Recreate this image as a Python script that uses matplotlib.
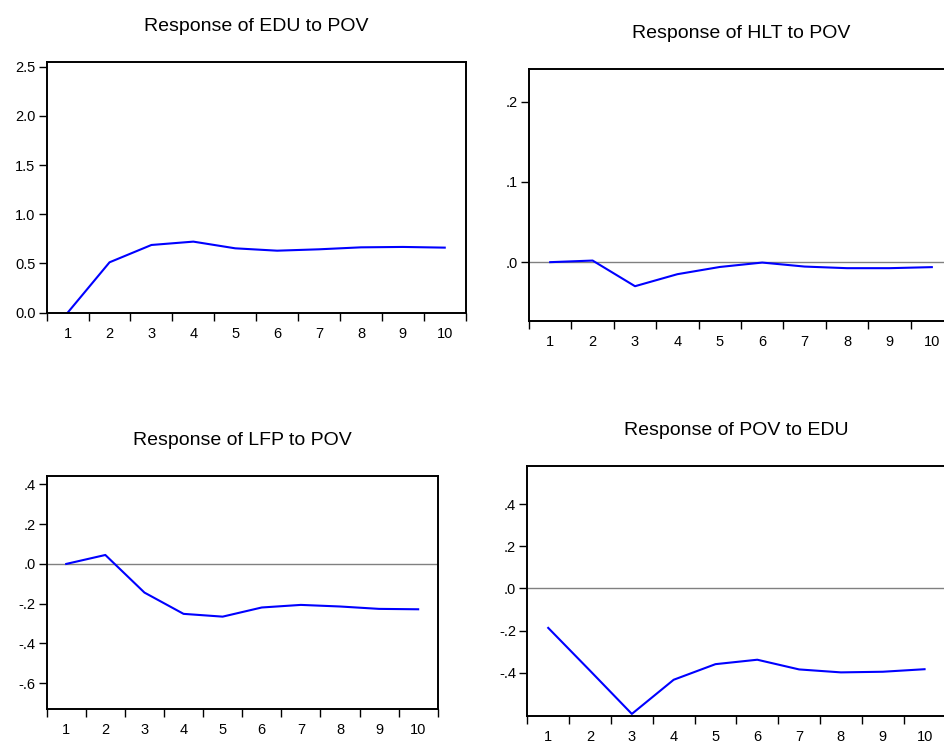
import matplotlib
matplotlib.use('Agg')
import matplotlib.pyplot as plt
from matplotlib.ticker import FixedLocator

plt.rcParams['font.family'] = ['Liberation Sans', 'DejaVu Sans']

periods = [1, 2, 3, 4, 5, 6, 7, 8, 9, 10]

edu_to_pov = [0.0, 0.512, 0.688, 0.722, 0.654, 0.630, 0.644, 0.664, 0.668, 0.661]
hlt_to_pov = [0.000, 0.002, -0.030, -0.015, -0.006, -0.0005, -0.0055, -0.0075, -0.0075, -0.0062]
lfp_to_pov = [0.0, 0.045, -0.144, -0.251, -0.265, -0.219, -0.206, -0.214, -0.226, -0.228]
pov_to_edu = [-0.187, -0.39, -0.595, -0.433, -0.359, -0.338, -0.384, -0.398, -0.395, -0.383]

titles = ['Response of EDU to POV', 'Response of HLT to POV',
          'Response of LFP to POV', 'Response of POV to EDU']

edu_ticks = [0.0, 0.5, 1.0, 1.5, 2.0, 2.5]
edu_labels = ['0.0', '0.5', '1.0', '1.5', '2.0', '2.5']
hlt_ticks = [0.0, 0.1, 0.2]
hlt_labels = ['.0', '.1', '.2']
lfp_ticks = [-0.6, -0.4, -0.2, 0.0, 0.2, 0.4]
lfp_labels = ['-.6', '-.4', '-.2', '.0', '.2', '.4']
pov_ticks = [-0.4, -0.2, 0.0, 0.2, 0.4]
pov_labels = ['-.4', '-.2', '.0', '.2', '.4']

fig = plt.figure(figsize=(9.45, 7.44), dpi=100)


def panel(rect, values, title, ylim, yticks, ylabels, zero_line=True):
    ax = fig.add_axes(rect)
    if zero_line:
        ax.axhline(0, color='#808080', lw=1.0, zorder=1)
    ax.plot(periods, values, color='#0000ff', lw=1.5, zorder=2)
    ax.set_xlim(0.5, 10.5)
    ax.set_ylim(*ylim)
    ax.set_xticks(periods)
    ax.set_xticklabels([str(p) for p in periods])
    ax.xaxis.set_minor_locator(FixedLocator([p + 0.5 for p in range(0, 11)]))
    ax.set_yticks(yticks)
    ax.set_yticklabels(ylabels)
    ax.tick_params(axis='x', which='major', length=0, pad=10, labelsize=10.5)
    ax.tick_params(axis='x', which='minor', length=5.5, width=1.0, direction='out')
    ax.tick_params(axis='y', which='major', length=5.5, width=1.0, pad=2.5,
                   labelsize=10.5, direction='out')
    for s in ax.spines.values():
        s.set_linewidth(1.4)
    ax.set_title(title, fontsize=14, pad=22)
    return ax


panel([0.0494, 0.5797, 0.4434, 0.3374], edu_to_pov, titles[0],
      (0.0, 2.55), edu_ticks, edu_labels, zero_line=False)
panel([0.5598, 0.5679, 0.4487, 0.3394], hlt_to_pov, titles[1],
      (-0.074, 0.241), hlt_ticks, hlt_labels)
panel([0.0494, 0.0466, 0.4138, 0.3136], lfp_to_pov, titles[2],
      (-0.731, 0.442), lfp_ticks, lfp_labels)
panel([0.558, 0.0376, 0.4425, 0.3364], pov_to_edu, titles[3],
      (-0.605, 0.582), pov_ticks, pov_labels)

fig.savefig('out.png', dpi=100)
